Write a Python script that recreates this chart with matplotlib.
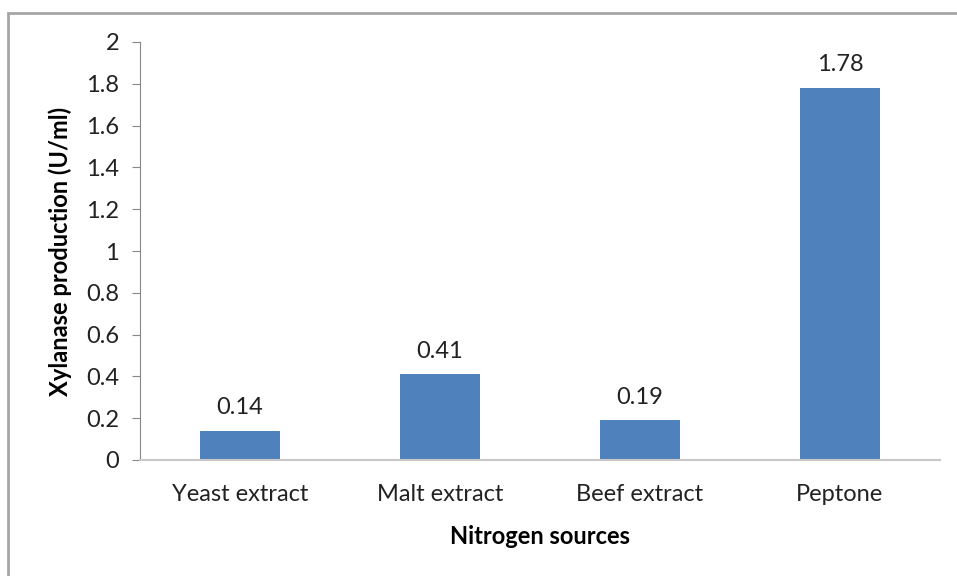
import matplotlib.pyplot as plt
from matplotlib.patches import Rectangle

# data
sources = ["Yeast extract", "Malt extract", "Beef extract", "Peptone"]
xylanase = [0.14, 0.41, 0.19, 1.78]
yticks = [0, 0.2, 0.4, 0.6, 0.8, 1, 1.2, 1.4, 1.6, 1.8, 2]
ytick_labels = ["0", "0.2", "0.4", "0.6", "0.8", "1", "1.2", "1.4", "1.6", "1.8", "2"]

plt.rcParams['font.family'] = ['Lato', 'DejaVu Sans']

W, H = 957, 576
fig = plt.figure(figsize=(W / 100, H / 100), dpi=100)
ax = fig.add_axes([140 / W, (H - 460) / H, 800 / W, 418 / H])

# outer chart frame (only top/left visible in the crop)
fig.patches.append(Rectangle((8 / W, -0.1), 1.2, (H - 13) / H + 0.1, transform=fig.transFigure,
                             fill=False, edgecolor='#a6a6a6', linewidth=2))

x = range(len(sources))
bars = ax.bar(x, xylanase, width=0.4, color='#4f81bd')
for b, v in zip(bars, xylanase):
    ax.text(b.get_x() + b.get_width() / 2, v + 0.06, f"{v:.2f}", ha='center', va='bottom',
            fontsize=17, color='#222222')

ax.set_xlim(-0.5, 3.5)
ax.set_ylim(0, 2)
ax.set_yticks(yticks)
ax.set_yticklabels(ytick_labels)
ax.set_xticks(list(x))
ax.set_xticklabels(sources)

ax.spines['top'].set_visible(False)
ax.spines['right'].set_visible(False)
ax.spines['left'].set_color('#888888')
ax.spines['bottom'].set_color('#c8c8c8')
ax.spines['bottom'].set_linewidth(1.5)
ax.tick_params(axis='y', length=6, color='#888888', labelsize=17, labelcolor='#222222', pad=9)
ax.tick_params(axis='x', length=0, labelsize=17, labelcolor='#222222', pad=17)

ax.set_xlabel("Nitrogen sources", fontsize=17, fontweight='bold', labelpad=15)
ax.set_ylabel("Xylanase production (U/ml)", fontsize=17, fontweight='bold', labelpad=10)

fig.savefig("out.png", dpi=100)
